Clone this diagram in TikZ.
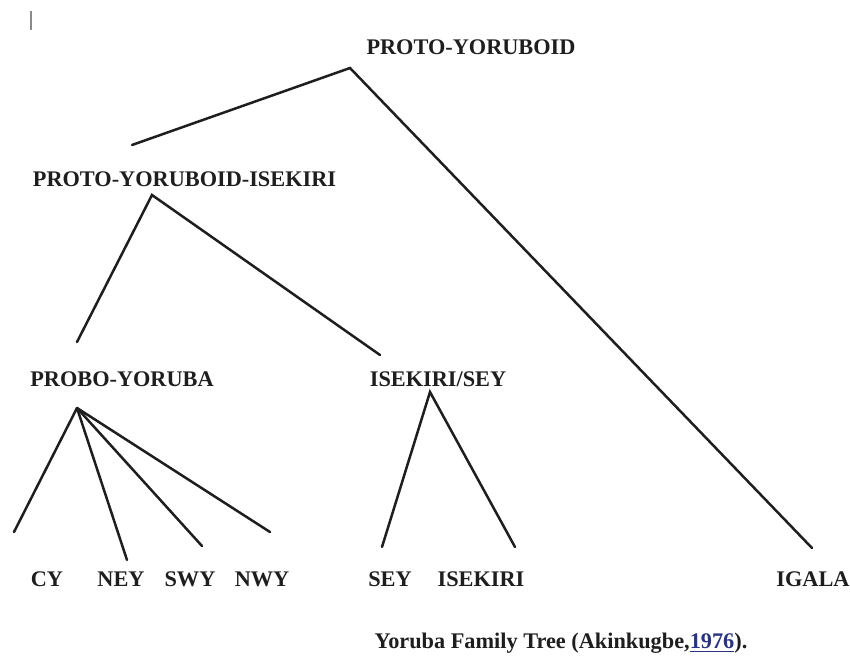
\documentclass[tikz,border=0pt]{standalone}
\usepackage{fontspec}
\setmainfont{Liberation Serif}
\usepackage{xcolor}
\definecolor{TreeInk}{HTML}{1E1E1E}
\definecolor{CaretGray}{HTML}{8A8A8A}
\definecolor{LinkBlue}{HTML}{2A3480}

\begin{document}
\begin{tikzpicture}[x=0.5pt,y=-0.5pt,font=\fontsize{11.15}{13}\selectfont\bfseries]
\tikzset{lang/.style={inner sep=0pt,text height=7.4pt,text depth=0pt,text=TreeInk},
         br/.style={draw=TreeInk,line width=1.25pt,line cap=round}}
\useasboundingbox (0,0) rectangle (850,658);
\draw[CaretGray,line width=1.2pt] (31,11) -- (31,30);
% labels
\node[lang] (proto) at (471,47) {PROTO-YORUBOID};
\node[lang] (protoise) at (184.5,179) {PROTO-YORUBOID-ISEKIRI};
\node[lang] (probo) at (122,379) {PROBO-YORUBA};
\node[lang] (isesey) at (438,379) {ISEKIRI/SEY};
\node[lang] (cy) at (47,579) {CY};
\node[lang] (ney) at (121,579) {NEY};
\node[lang] (swy) at (190,579) {SWY};
\node[lang] (nwy) at (262,579) {NWY};
\node[lang] (sey) at (390,579) {SEY};
\node[lang] (isekiri) at (481,579) {ISEKIRI};
\node[lang] (igala) at (813,579) {IGALA};
\node[lang] (caption) at (561,641) {Yoruba Family Tree (Akinkugbe,\textcolor{LinkBlue}{\underline{1976}}).};
% branch points
\coordinate (pTop) at (350,68);   \coordinate (pLeft) at (132,145); \coordinate (pIgala) at (812,548);
\coordinate (pIse) at (152,195);  \coordinate (pProbo) at (77,342); \coordinate (pSey) at (380,355);
\coordinate (pYor) at (77,408);   \coordinate (pCy) at (14,532);    \coordinate (pNey) at (127,560);
\coordinate (pSwy) at (202,546);  \coordinate (pNwy) at (270,532);
\coordinate (pIs) at (430,392);   \coordinate (pSeyB) at (382,547); \coordinate (pIsek) at (515,547);
\draw[br] (pLeft) -- (pTop) -- (pIgala);
\draw[br] (pProbo) -- (pIse) -- (pSey);
\draw[br] (pYor) -- (pCy); \draw[br] (pYor) -- (pNey); \draw[br] (pYor) -- (pSwy); \draw[br] (pYor) -- (pNwy);
\draw[br] (pSeyB) -- (pIs) -- (pIsek);
\end{tikzpicture}
\end{document}
